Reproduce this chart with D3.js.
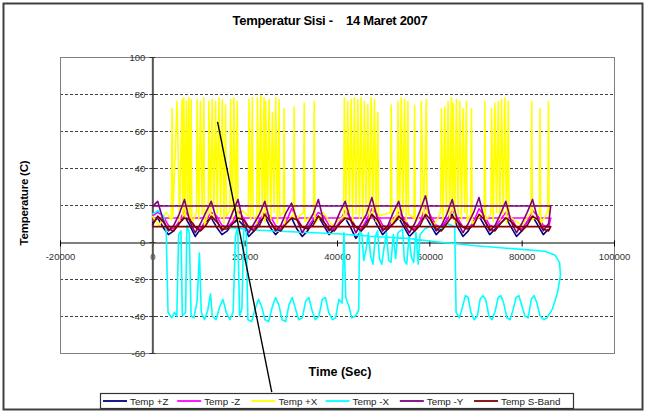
<!DOCTYPE html>
<html>
<head>
<meta charset="utf-8">
<script src="https://cdn.jsdelivr.net/npm/d3@7"></script>
<style>
  body { margin: 0; background: #fff; }
  text { font-family: "Liberation Sans", Arial, sans-serif; }
</style>
</head>
<body>
<div class="grafico"></div>
<script>
/*Tiempos de muestreo (s) para las series orbitales*/
const orbitTimes = [
  0, 1160, 2320, 3480, 4640,
  5800, 6960, 8120, 9280, 10440,
  11600, 12760, 13920, 15080, 16240,
  17400, 18560, 19720, 20880, 22040,
  23200, 24360, 25520, 26680, 27840,
  29000, 30160, 31320, 32480, 33640,
  34800, 35960, 37120, 38280, 39440,
  40600, 41760, 42920, 44080, 45240,
  46400, 47560, 48720, 49880, 51040,
  52200, 53360, 54520, 55680, 56840,
  58000, 59160, 60320, 61480, 62640,
  63800, 64960, 66120, 67280, 68440,
  69600, 70760, 71920, 73080, 74240,
  75400, 76560, 77720, 78880, 80040,
  81200, 82360, 83520, 84680, 85840
];

const tempPlusZ = [
  10, 13, 8, 4, 6,
  10, 14, 9, 3, 7,
  11, 13, 8, 4, 6,
  10, 12, 9, 3, 6,
  11, 14, 8, 4, 7,
  10, 13, 7, 3, 6,
  11, 14, 9, 4, 7,
  10, 13, 8, 2, 6,
  11, 15, 9, 4, 7,
  10, 13, 8, 3, 6,
  11, 14, 9, 4, 7,
  12, 15, 8, 3, 6,
  11, 14, 9, 4, 7,
  10, 13, 8, 3, 6,
  11, 14, 9, 4, 7
];

const tempMinusZ = [
  14, 16, 14, 9, 7,
  11, 17, 13, 8, 7,
  12, 16, 14, 9, 8,
  11, 17, 13, 8, 7,
  12, 16, 14, 9, 7,
  11, 18, 13, 8, 8,
  12, 16, 14, 9, 7,
  11, 17, 13, 8, 7,
  12, 18, 15, 9, 8,
  12, 16, 13, 8, 7,
  11, 19, 14, 9, 8,
  12, 17, 13, 8, 7,
  11, 18, 14, 9, 8,
  12, 16, 13, 8, 7,
  11, 17, 14, 9, 8
];

const tempMinusY = [
  19, 22, 12, 6, 9,
  15, 23, 11, 5, 10,
  16, 22, 12, 6, 9,
  16, 23, 10, 5, 10,
  15, 22, 11, 6, 9,
  16, 21, 12, 5, 10,
  15, 23, 11, 6, 9,
  16, 22, 12, 5, 10,
  15, 24, 13, 6, 9,
  16, 22, 10, 5, 10,
  17, 25, 12, 6, 9,
  15, 23, 11, 5, 10,
  16, 24, 12, 6, 9,
  15, 22, 11, 5, 10,
  16, 23, 12, 6, 10
];

const tempSBand = [
  9, 14, 11, 7, 6,
  10, 13, 12, 8, 6,
  9, 14, 11, 7, 7,
  10, 13, 12, 8, 6,
  9, 15, 11, 7, 6,
  10, 13, 12, 8, 7,
  9, 14, 11, 7, 6,
  10, 13, 12, 8, 6,
  9, 15, 12, 7, 7,
  10, 14, 11, 8, 6,
  9, 15, 12, 7, 6,
  10, 14, 11, 8, 7,
  9, 15, 12, 7, 6,
  10, 13, 11, 8, 6,
  9, 14, 12, 7, 6
];

/*Retorno de los datos al inicio (líneas horizontales)*/
const wrapMinusZ = [[86300, 13], [0, 13]];
const wrapMinusY = [[86300, 19.5], [0, 19.5]];
const wrapSBand = [[86300, 8.3], [0, 8.3]];

/*Temp +X: picos*/
const tempPlusX = [
  [0, 14], [1500, 9], [3000, 16], [4130, 12],
  [4280, 72], [4430, 13], [5360, 76], [5900, 11],
  [6450, 77], [6630, 14], [6810, 78], [7100, 12],
  [7390, 76], [7650, 15], [7900, 78], [8150, 13],
  [8410, 77], [8560, 10], [9560, 16], [9710, 77], [10070, 12],
  [10430, 76], [10800, 15], [11160, 78], [11310, 9],
  [12100, 16], [12250, 76], [12600, 14], [12970, 77], [13330, 12],
  [13700, 76], [14060, 15], [14420, 78], [14790, 13],
  [15150, 77], [15510, 10], [15870, 74], [16020, 14],
  [16810, 17], [16960, 77], [17320, 12], [17680, 78], [18040, 15],
  [18410, 76], [18560, 11], [19500, 17], [20790, 14],
  [20940, 77], [21300, 12], [21670, 78], [21820, 15],
  [22600, 10], [22750, 78], [23110, 16], [23480, 79], [23840, 13],
  [24200, 78], [24380, 11], [24570, 76], [24930, 15],
  [25290, 77], [25650, 12], [26020, 70], [26380, 16],
  [26740, 78], [27100, 10], [27470, 77], [27620, 14],
  [28400, 16], [28550, 72], [28700, 9],
  [30570, 15], [30720, 73], [30870, 12],
  [32750, 16], [32900, 75], [33050, 11],
  [34920, 15], [35070, 76], [35220, 10],
  [37000, 16], [39000, 9], [41440, 14],
  [41590, 78], [41950, 12], [42320, 76], [42680, 16],
  [43040, 77], [43400, 11], [43770, 78], [44130, 15],
  [44500, 77], [44860, 13], [45220, 78], [45580, 10],
  [45940, 76], [46300, 16], [46670, 74], [47030, 12],
  [47400, 78], [47760, 15], [48120, 77], [48480, 11],
  [48850, 70], [49000, 14],
  [51590, 16], [51740, 74], [51890, 10],
  [53040, 15], [53190, 76], [53550, 12], [53910, 78], [54270, 16],
  [54640, 77], [55000, 11], [55360, 76], [55510, 15],
  [56660, 13], [56810, 74], [56960, 10],
  [58110, 16], [58260, 76], [58800, 12], [59350, 77], [59500, 14],
  [61000, 9], [62460, 16],
  [62610, 72], [62970, 11], [63330, 73], [63690, 15],
  [64060, 76], [64420, 12], [64780, 78], [64960, 16],
  [65140, 75], [65500, 10], [65870, 77], [66230, 14],
  [66590, 76], [66950, 12], [67310, 72], [67670, 16],
  [68040, 76], [68190, 11], [68980, 15], [69130, 72], [69280, 10],
  [71880, 16], [72030, 76], [72180, 12],
  [73330, 15], [73480, 72], [73840, 11], [74200, 75], [74560, 16],
  [74930, 76], [75290, 12], [75650, 77], [76010, 15],
  [76380, 78], [76740, 10], [77110, 76], [77260, 14],
  [80000, 9], [82030, 16], [82180, 76], [82330, 12],
  [83830, 15], [83980, 72], [84130, 10],
  [85650, 16], [85800, 76], [85950, 13]
];

/*Temp -X*/
const tempMinusX = [
  [0, 15], [1200, 17], [2400, 14], [3000, 6],
  [3400, -38], [4200, -41], [4800, -38], [5300, -40],
  [5700, 4], [6200, 6], [6500, -40], [7200, -38],
  [7500, 9], [8000, 5], [8400, -40], [9000, -41],
  [9700, -32], [10200, -6], [10600, -38], [11300, -42],
  [12000, -37], [12600, -28], [13000, -40], [13800, -42],
  [14600, -35], [15300, -31], [16000, -38], [16800, -42],
  [17500, -38], [18000, 3], [18500, 8], [18900, -40],
  [19400, -36], [19800, 6], [20300, 10], [20700, -42],
  [21500, -43], [22300, -36], [23000, -31], [23700, -35],
  [24400, -42], [25200, -43], [26000, -35], [26700, -30],
  [27400, -34], [28100, -42], [28900, -43], [29600, -34],
  [30300, -30], [31000, -36], [31700, -42], [32500, -41],
  [33200, -32], [33900, -30], [34600, -37], [35300, -42],
  [36100, -40], [36800, -31], [37500, -30], [38200, -38],
  [39000, -42], [39700, -41], [40400, -31], [41100, -33],
  [41500, 5], [41900, -30], [42600, -35], [43200, -41],
  [44000, -40], [44700, -37], [44900, 6], [45400, 4],
  [45800, -10], [46300, -4], [46800, 5], [47300, -8],
  [47800, -12], [48300, 3], [48800, 6],
  [49200, -9], [49700, -12], [50200, -3], [50700, 5], [51200, -10],
  [51700, -11], [52200, 4], [52700, -9], [53200, 5],
  [54200, 7], [54600, -10], [55100, -12], [55600, 3], [56100, -8],
  [56600, -11], [57100, 5], [57600, -12], [58000, 4],
  [59000, 7], [60600, 9], [61400, 6], [62200, 8], [63000, 7],
  [63800, 10], [64800, 9], [65500, 8],
  [65800, -38], [66500, -41], [67200, -35], [67800, -29], [68400, -30],
  [69000, -38], [69700, -42], [70400, -40], [71000, -31], [71600, -29],
  [72200, -31], [72900, -40], [73600, -42], [74300, -37], [74900, -30],
  [75500, -29], [76100, -33], [76800, -41], [77500, -42], [78200, -36],
  [78800, -30], [79400, -29], [80000, -34], [80700, -40], [81400, -41],
  [82100, -31], [82700, -29], [83300, -33], [84000, -40], [84800, -42],
  [85500, -41],
  [86700, -36], [87800, -27], [88400, -18], [88200, -11], [87200, -7],
  [85000, -5], [80000, -4], [70000, -2], [62000, 0], [55000, 2],
  [48000, 3], [40000, 4.5], [30000, 5.5], [22000, 6.5], [16000, 8]
];

/*Línea de anotación*/
const pointerLine = [[14130, 64.9], [25870, -81.1]];

const seriesNames = ['Temp +Z', 'Temp -Z', 'Temp +X', 'Temp -X', 'Temp -Y', 'Temp S-Band'];
const seriesColors = ['#000080', '#FF00FF', '#FFFF00', '#00FFFF', '#800080', '#800000'];

const xTicks = [-20000, 0, 20000, 40000, 60000, 80000, 100000];
const yTicks = [-60, -40, -20, 0, 20, 40, 60, 80, 100];

function main() {
  const w = 653;
  const h = 411;
  const plot = { left: 60, right: 614, top: 57, bottom: 353 };

  const withTimes = (vals) => orbitTimes.map((t, i) => [t, vals[i]]);
  const seriesData = [
    withTimes(tempPlusZ),
    withTimes(tempMinusZ).concat(wrapMinusZ),
    tempPlusX,
    tempMinusX,
    withTimes(tempMinusY).concat(wrapMinusY),
    withTimes(tempSBand).concat(wrapSBand)
  ];

  /*Escalas*/
  const xScale = d3.scaleLinear()
    .domain([-20000, 100000])
    .range([plot.left, plot.right]);

  const yScale = d3.scaleLinear()
    .domain([-60, 100])
    .range([plot.bottom, plot.top]);

  const svg = d3.select('.grafico')
    .append('svg')
    .attr('width', w)
    .attr('height', h);

  /*Marco exterior*/
  svg.append('rect')
    .attr('x', 3.5)
    .attr('y', 3.5)
    .attr('width', 639)
    .attr('height', 406)
    .attr('fill', '#fff')
    .attr('stroke', '#404040')
    .attr('stroke-width', 2);

  /*Título*/
  svg.append('text')
    .attr('x', 330)
    .attr('y', 25)
    .attr('text-anchor', 'middle')
    .style('white-space', 'pre')
    .attr('font-size', 13)
    .attr('font-weight', 'bold')
    .attr('letter-spacing', -0.3)
    .text('Temperatur Sisi -    14 Maret 2007');

  /*Cuadrícula*/
  svg.append('g')
    .selectAll('line')
    .data(yTicks.filter(d => d !== -60 && d !== 0 && d !== 100))
    .enter()
    .append('line')
    .attr('x1', plot.left)
    .attr('x2', plot.right)
    .attr('y1', d => yScale(d) + 0.5)
    .attr('y2', d => yScale(d) + 0.5)
    .attr('stroke', '#404040')
    .attr('stroke-dasharray', '3,2');

  svg.append('rect')
    .attr('x', plot.left + 0.5)
    .attr('y', plot.top + 0.5)
    .attr('width', plot.right - plot.left)
    .attr('height', plot.bottom - plot.top)
    .attr('fill', 'none')
    .attr('stroke', '#808080');

  /*Ejes*/
  const xAxis = d3.axisBottom(xScale)
    .tickValues(xTicks)
    .tickFormat(d => String(d))
    .tickSizeInner(4)
    .tickSizeOuter(0)
    .tickPadding(7);

  const yAxis = d3.axisLeft(yScale)
    .tickValues(yTicks)
    .tickFormat(d => String(d))
    .tickSizeInner(3)
    .tickSizeOuter(0)
    .tickPadding(4);

  const gx = svg.append('g')
    .attr('id', 'x-axis')
    .attr('transform', `translate(0,${yScale(0) + 0.5})`)
    .call(xAxis);
  gx.select('.domain').attr('stroke', '#000');
  gx.selectAll('.tick line').attr('y1', -2).attr('stroke', '#000');
  gx.selectAll('.tick text')
    .attr('font-size', 9.5)
    .attr('font-family', '"Liberation Sans", Arial, sans-serif')
    .attr('fill', '#333');

  const gy = svg.append('g')
    .attr('id', 'y-axis')
    .attr('transform', `translate(${xScale(0)},0)`)
    .call(yAxis);
  gy.select('.domain').attr('stroke', '#555').attr('stroke-width', 2);
  gy.selectAll('.tick line').attr('x1', 3).attr('stroke', '#333');
  gy.selectAll('.tick text')
    .attr('font-size', 9.5)
    .attr('font-family', '"Liberation Sans", Arial, sans-serif')
    .attr('fill', '#333');

  /*Series*/
  const line = d3.line()
    .x(d => xScale(d[0]))
    .y(d => yScale(d[1]));

  svg.append('g')
    .selectAll('path')
    .data(seriesData)
    .enter()
    .append('path')
    .attr('d', d => line(d))
    .attr('fill', 'none')
    .attr('stroke', (d, i) => seriesColors[i])
    .attr('stroke-width', 1.6)
    .attr('stroke-linejoin', 'round');

  /*Línea de anotación*/
  svg.append('path')
    .attr('d', line(pointerLine))
    .attr('stroke', '#000')
    .attr('stroke-width', 1.4)
    .attr('fill', 'none');

  /*Títulos de ejes*/
  svg.append('text')
    .attr('transform', 'translate(28,203) rotate(-90)')
    .attr('text-anchor', 'middle')
    .attr('font-size', 11.5)
    .attr('font-weight', 'bold')
    .attr('letter-spacing', -0.2)
    .text('Temperature (C)');

  svg.append('text')
    .attr('x', 340)
    .attr('y', 376)
    .attr('text-anchor', 'middle')
    .attr('font-size', 12.5)
    .attr('font-weight', 'bold')
    .text('Time (Sec)');

  /*Leyenda*/
  const legend = svg.append('g');
  legend.append('rect')
    .attr('x', 100.5)
    .attr('y', 393.5)
    .attr('width', 473)
    .attr('height', 15)
    .attr('fill', '#fff')
    .attr('stroke', '#333')
    .attr('stroke-width', 1.2);

  const items = legend.selectAll('g.item')
    .data(seriesNames)
    .enter()
    .append('g')
    .attr('class', 'item')
    .attr('transform', (d, i) => `translate(${103 + i * 74.2},401)`);

  items.append('line')
    .attr('x1', 0)
    .attr('x2', 24)
    .attr('stroke', (d, i) => seriesColors[i])
    .attr('stroke-width', 1.8);

  items.append('text')
    .attr('x', 27)
    .attr('y', 3.5)
    .attr('font-size', 9.8)
    .attr('fill', '#222')
    .text(d => d);
}

main();
</script>
</body>
</html>
